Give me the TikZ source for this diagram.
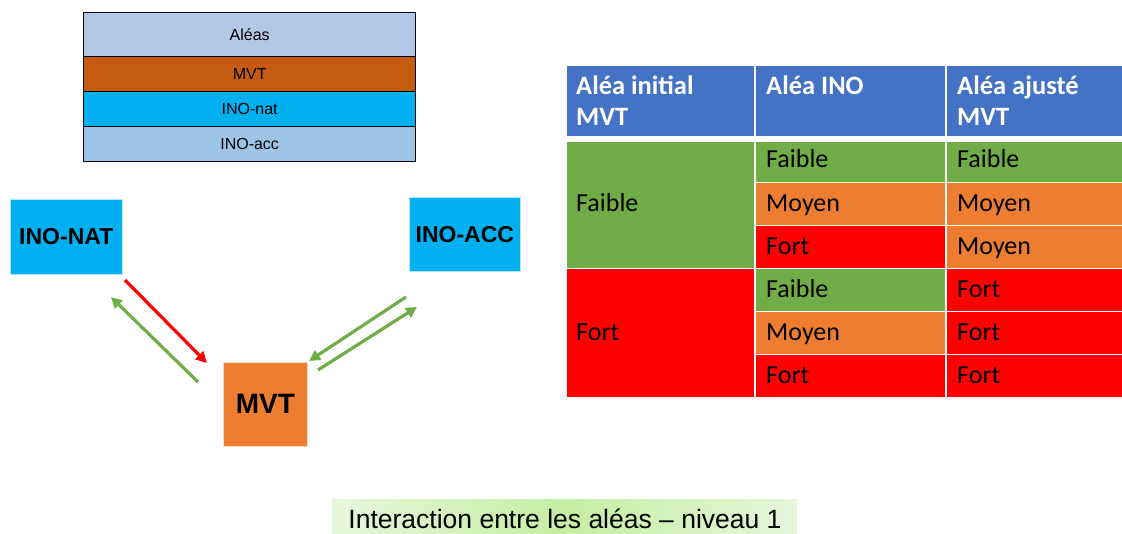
\documentclass[tikz,border=0pt]{standalone}
\usepackage{fontspec}
\setmainfont{Liberation Sans}
\newfontfamily\calib{Carlito}
\usetikzlibrary{arrows.meta}

\definecolor{hdrblue}{HTML}{4472C4}
\definecolor{lowgreen}{HTML}{70AD47}
\definecolor{midorange}{HTML}{ED7D31}
\definecolor{highred}{HTML}{FF0000}
\definecolor{legalea}{HTML}{B4C7E7}
\definecolor{legmvt}{HTML}{C55A11}
\definecolor{legnat}{HTML}{00B0F0}
\definecolor{legacc}{HTML}{9DC3E6}
\definecolor{capleft}{HTML}{E8F7DC}
\definecolor{capmid}{HTML}{C4EEA2}
\definecolor{capright}{HTML}{E6F6DA}

\tikzset{
  legrow/.style={draw=black, line width=1.3pt, minimum width=332pt, anchor=north west,
    inner sep=0pt, font=\fontsize{16}{19}\selectfont},
  riskbox/.style={draw=white!70!#1, line width=0.6pt, fill=#1, inner sep=0pt,
    anchor=north west, font=\bfseries\fontsize{23}{27}\selectfont},
  cell/.style={draw=white, line width=1.5pt, fill=#1, inner sep=0pt, anchor=north west},
  celltext/.style={anchor=base west, inner sep=0pt, font=\calib\fontsize{26}{31}\selectfont},
  hdrtext/.style={anchor=base west, inner sep=0pt, text=white, font=\calib\bfseries\fontsize{26.5}{31}\selectfont},
  link/.style={line width=3.2pt, -{Triangle[length=11pt,width=11pt]}},
}

\begin{document}
\begin{tikzpicture}[x=1pt, y=-1pt]
\useasboundingbox (0,0) rectangle (1122,534);

% legend of the colour code
\node[legrow, fill=legalea, minimum height=44pt] (lgalea) at (83,12) {Aléas};
\node[legrow, fill=legmvt,  minimum height=35pt] (lgmvt)  at (83,56) {MVT};
\node[legrow, fill=legnat,  minimum height=35pt] (lgnat)  at (83,91) {INO-nat};
\node[legrow, fill=legacc,  minimum height=35pt] (lgacc)  at (83,126) {INO-acc};

% the three hazards
\node[riskbox=legnat, minimum width=112pt, minimum height=75pt] (nat) at (10,199) {INO-NAT};
\node[riskbox=legnat, minimum width=111pt, minimum height=74pt] (acc) at (409,197) {INO-ACC};
\node[riskbox=midorange, minimum width=84pt, minimum height=84pt,
      font=\bfseries\fontsize{28}{32}\selectfont] (mvt) at (223,362) {MVT};

% interaction arrows
\coordinate (natout) at (125,280);
\coordinate (mvtin)  at (207,363);
\coordinate (mvtout) at (198,382);
\coordinate (natin)  at (111,297);
\coordinate (accout) at (406,297);
\coordinate (mvtinr) at (309,361);
\coordinate (mvtoutr) at (318,370);
\coordinate (accin)  at (417,307);
\draw[link, highred]  (natout) -- (mvtin);
\draw[link, lowgreen] (mvtout) -- (natin);
\draw[link, lowgreen] (accout) -- (mvtinr);
\draw[link, lowgreen] (mvtoutr) -- (accin);

% decision table: header
\node[cell=hdrblue, minimum width=189pt, minimum height=71pt] (h1) at (565,65) {};
\node[cell=hdrblue, minimum width=191pt, minimum height=71pt] (h2) at (754,65) {};
\node[cell=hdrblue, minimum width=177pt, minimum height=71pt] (h3) at (945,65) {};
\node[hdrtext] (h1a) at (576,95) {Aléa initial};
\node[hdrtext] (h1b) at (576,126) {MVT};
\node[hdrtext] (h2a) at (766,95) {Aléa INO};
\node[hdrtext] (h3a) at (957,95) {Aléa ajusté};
\node[hdrtext] (h3b) at (957,126) {MVT};

% first column: initial MVT hazard
\node[cell=lowgreen, minimum width=189pt, minimum height=127pt] (c1) at (565,141) {};
\node[cell=highred,  minimum width=189pt, minimum height=129pt] (c2) at (565,268) {};
\node[celltext] at (576,212) {Faible};
\node[celltext] at (576,341) {Fort};

% second column: INO hazard
\node[cell=lowgreen,  minimum width=191pt, minimum height=41pt] (b1) at (754,141) {};
\node[cell=midorange, minimum width=191pt, minimum height=43pt] (b2) at (754,182) {};
\node[cell=highred,   minimum width=191pt, minimum height=43pt] (b3) at (754,225) {};
\node[cell=lowgreen,  minimum width=191pt, minimum height=43pt] (b4) at (754,268) {};
\node[cell=midorange, minimum width=191pt, minimum height=43pt] (b5) at (754,311) {};
\node[cell=highred,   minimum width=191pt, minimum height=43pt] (b6) at (754,354) {};
\node[celltext] at (766,168) {Faible};
\node[celltext] at (766,212) {Moyen};
\node[celltext] at (766,255) {Fort};
\node[celltext] at (766,298) {Faible};
\node[celltext] at (766,341) {Moyen};
\node[celltext] at (766,384) {Fort};

% third column: adjusted MVT hazard
\node[cell=lowgreen,  minimum width=177pt, minimum height=41pt] (a1) at (945,141) {};
\node[cell=midorange, minimum width=177pt, minimum height=43pt] (a2) at (945,182) {};
\node[cell=midorange, minimum width=177pt, minimum height=43pt] (a3) at (945,225) {};
\node[cell=highred,   minimum width=177pt, minimum height=43pt] (a4) at (945,268) {};
\node[cell=highred,   minimum width=177pt, minimum height=43pt] (a5) at (945,311) {};
\node[cell=highred,   minimum width=177pt, minimum height=43pt] (a6) at (945,354) {};
\node[celltext] at (957,168) {Faible};
\node[celltext] at (957,212) {Moyen};
\node[celltext] at (957,255) {Moyen};
\node[celltext] at (957,298) {Fort};
\node[celltext] at (957,341) {Fort};
\node[celltext] at (957,384) {Fort};

% caption
\shade[left color=capleft, right color=capright, middle color=capmid] (332,499) rectangle (797,534);
\node[anchor=base, inner sep=0pt, font=\fontsize{26.5}{30}\selectfont] (caption) at (565,528) {Interaction entre les aléas – niveau 1};
\end{tikzpicture}
\end{document}
